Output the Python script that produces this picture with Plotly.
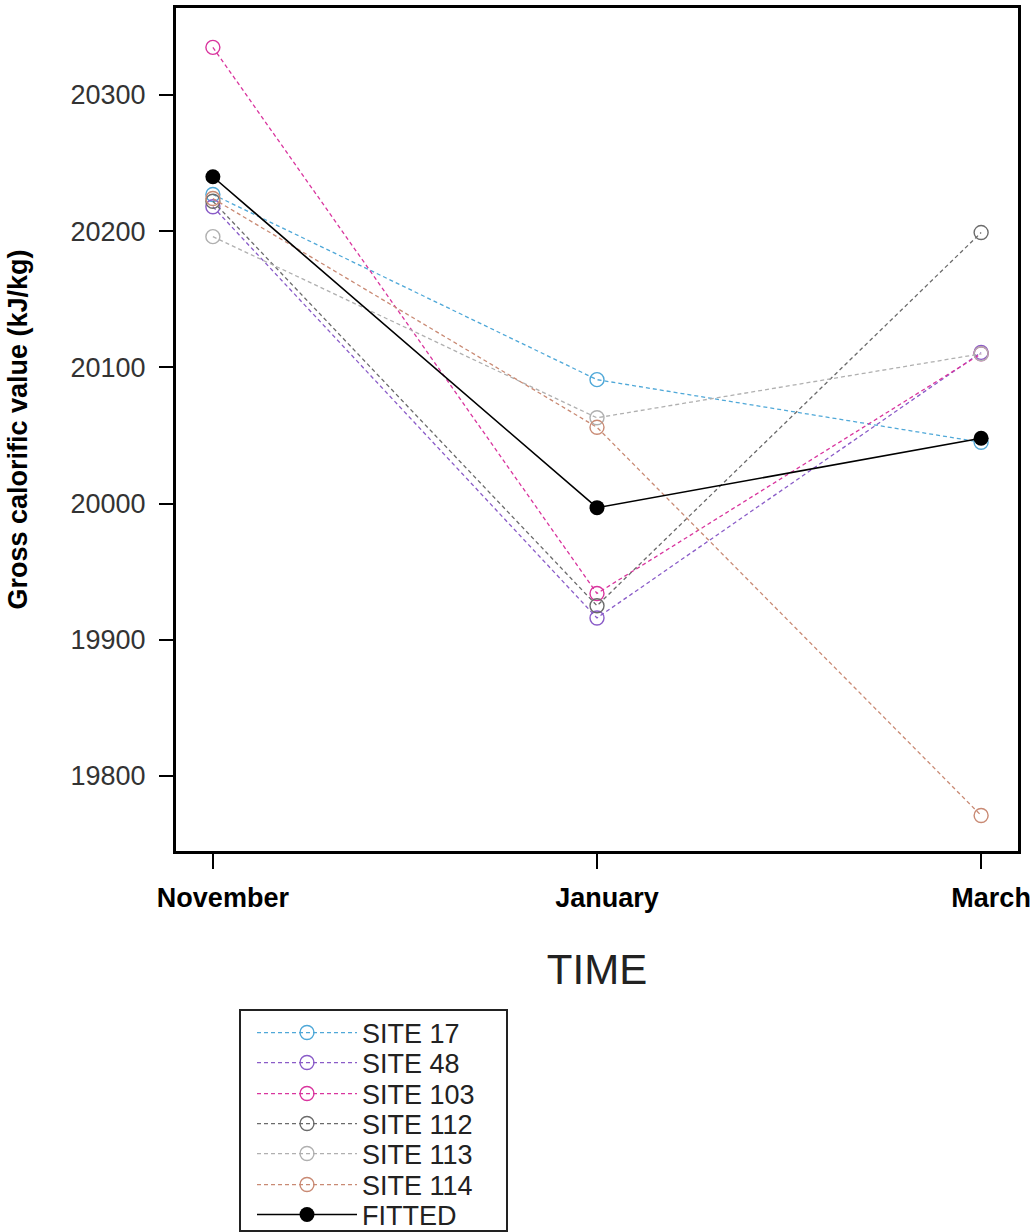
import plotly.graph_objects as go

months = ["November", "January", "March"]
x_pos = [0, 1, 2]

site_names = ["SITE 17", "SITE 48", "SITE 103", "SITE 112", "SITE 113", "SITE 114"]
site_values = {
    "SITE 17":  [20227, 20091, 20045],
    "SITE 48":  [20218, 19916, 20111],
    "SITE 103": [20335, 19934, 20110],
    "SITE 112": [20222, 19925, 20199],
    "SITE 113": [20196, 20063, 20110],
    "SITE 114": [20224, 20056, 19771],
}
fitted_name = "FITTED"
fitted_values = [20240, 19997, 20048]

site_colors = {
    "SITE 17": "#4fa8d8",
    "SITE 48": "#8a5cc8",
    "SITE 103": "#d9359e",
    "SITE 112": "#6b6b6b",
    "SITE 113": "#b0b0b0",
    "SITE 114": "#c98a74",
}

y_ticks = [19800, 19900, 20000, 20100, 20200, 20300]
y_tick_text = ["19800", "19900", "20000", "20100", "20200", "20300"]

W, H = 1030, 1232
L, R, T, B = 176, 1018, 8, 851


def py(pix):
    return (B - pix) / (B - T)


def px(pix):
    return (pix - L) / (R - L)


legend_rows = [1033, 1063, 1094, 1124, 1154, 1185, 1215]
legend_ids = ["legend", "legend2", "legend3", "legend4", "legend5", "legend6", "legend7"]

fig = go.Figure()
for i, name in enumerate(site_names):
    c = site_colors[name]
    fig.add_trace(go.Scatter(
        x=x_pos, y=site_values[name], name=name, mode="lines+markers",
        line=dict(color=c, width=1.3, dash="4px,3px"),
        marker=dict(symbol="circle-open", size=14, color=c, line=dict(width=1.4, color=c)),
        legend=legend_ids[i],
    ))
fig.add_trace(go.Scatter(
    x=x_pos, y=fitted_values, name=fitted_name, mode="lines+markers",
    line=dict(color="black", width=1.6),
    marker=dict(symbol="circle", size=15, color="black"),
    legend=legend_ids[6],
))

legend_common = dict(
    xref="paper", yref="paper", xanchor="left", yanchor="middle",
    bgcolor="rgba(0,0,0,0)", borderwidth=0,
    font=dict(size=27, color="#222222"), itemwidth=100,
)
layout_legends = {}
for lid, row in zip(legend_ids, legend_rows):
    layout_legends[lid] = dict(x=px(252), y=py(row), **legend_common)

fig.update_layout(
    width=W, height=H,
    margin=dict(l=L, r=W - R, t=T, b=H - B, autoexpand=False),
    paper_bgcolor="white", plot_bgcolor="white",
    font=dict(family="Liberation Sans, Arial, sans-serif", color="#333333"),
    showlegend=True,
    **layout_legends,
)

# legend frame
fig.add_shape(type="rect", xref="paper", yref="paper",
              x0=px(240), x1=px(507), y0=py(1010), y1=py(1231),
              line=dict(color="#222222", width=2), fillcolor="rgba(0,0,0,0)", layer="below")

fig.update_xaxes(
    range=[-0.096, 2.096], tickvals=x_pos, ticktext=months,
    showline=True, mirror=True, linecolor="black", linewidth=3,
    ticks="outside", ticklen=15, tickwidth=2, tickcolor="black",
    showgrid=False, zeroline=False, automargin=False,
    tickfont=dict(size=27, color="black", weight="bold"),
    ticklabelstandoff=6, ticklabelshift=10, ticklabeloverflow="allow",
    title=dict(text="TIME", font=dict(size=42, color="#222222"), standoff=43),
)
fig.update_yaxes(
    range=[19744.9, 20363.9], tickvals=y_ticks, ticktext=y_tick_text,
    showline=True, mirror=True, linecolor="black", linewidth=3,
    ticks="outside", ticklen=14, tickwidth=2, tickcolor="black",
    showgrid=False, zeroline=False, automargin=False,
    tickfont=dict(size=27, color="#333333"),
    ticklabelstandoff=8, ticklabeloverflow="allow",
    title=dict(text="Gross calorific value (kJ/kg)", font=dict(size=27, color="black", weight="bold"), standoff=36),
)

fig.write_html(
    "out.html",
    config={"displayModeBar": False},
    post_script="document.body.style.margin='0px';document.body.style.overflow='hidden';",
)
